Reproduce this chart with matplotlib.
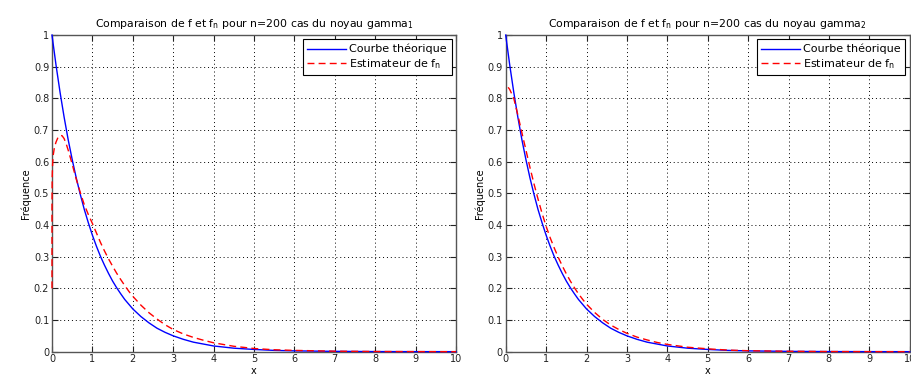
import numpy as np
import matplotlib
matplotlib.use("Agg")
import matplotlib.pyplot as plt

# theoretical curve (same on both panels)
x_th = [0, 0.1, 0.2, 0.3, 0.4, 0.5, 0.6, 0.7, 0.8, 0.9, 1.0, 1.1, 1.2, 1.3,
        1.4, 1.5, 1.6, 1.7, 1.8, 1.9, 2.0, 2.2, 2.4, 2.6, 2.8, 3.0, 3.25, 3.5,
        3.75, 4.0, 4.5, 5.0, 5.5, 6.0, 7.0, 8.0, 9.0, 10.0]
y_th = [1.0, 0.905, 0.819, 0.741, 0.670, 0.607, 0.549, 0.497, 0.449, 0.407,
        0.368, 0.333, 0.301, 0.273, 0.247, 0.223, 0.202, 0.183, 0.165, 0.150,
        0.135, 0.111, 0.091, 0.074, 0.061, 0.050, 0.039, 0.030, 0.024, 0.018,
        0.011, 0.007, 0.004, 0.0025, 0.001, 0.0003, 0.0001, 0.0]

# estimator, gamma_1 kernel
x_g1 = [0.0, 0.0, 0.005, 0.015, 0.03, 0.06, 0.1, 0.15, 0.2, 0.25, 0.3, 0.35,
        0.4, 0.45, 0.5, 0.6, 0.7, 0.8, 0.9, 1.0, 1.1, 1.2, 1.3, 1.4, 1.5, 1.6,
        1.7, 1.8, 1.9, 2.0, 2.2, 2.4, 2.6, 2.8, 3.0, 3.25, 3.5, 3.75, 4.0,
        4.5, 5.0, 5.5, 6.0, 7.0, 8.0, 9.0, 10.0]
y_g1 = [0.2, 0.45, 0.55, 0.59, 0.62, 0.645, 0.662, 0.677, 0.683, 0.682,
        0.673, 0.657, 0.637, 0.615, 0.592, 0.545, 0.503, 0.464, 0.433, 0.405,
        0.375, 0.345, 0.318, 0.293, 0.270, 0.248, 0.228, 0.209, 0.191, 0.175,
        0.147, 0.123, 0.103, 0.085, 0.070, 0.056, 0.045, 0.036, 0.028, 0.017,
        0.010, 0.006, 0.004, 0.0015, 0.0005, 0.0002, 0.0]

# estimator, gamma_2 kernel
x_g2 = [0.06, 0.1, 0.2, 0.3, 0.4, 0.5, 0.6, 0.7, 0.8, 0.9, 1.0, 1.1, 1.2, 1.3,
        1.4, 1.5, 1.6, 1.7, 1.8, 1.9, 2.0, 2.2, 2.4, 2.6, 2.8, 3.0, 3.25, 3.5,
        3.75, 4.0, 4.5, 5.0, 5.5, 6.0, 7.0, 8.0, 9.0, 10.0]
y_g2 = [0.835, 0.828, 0.80, 0.748, 0.692, 0.637, 0.582, 0.530, 0.482, 0.437,
        0.396, 0.360, 0.328, 0.298, 0.271, 0.246, 0.223, 0.202, 0.183, 0.166,
        0.150, 0.124, 0.102, 0.084, 0.070, 0.058, 0.046, 0.037, 0.029, 0.023,
        0.014, 0.009, 0.005, 0.003, 0.0012, 0.0004, 0.0001, 0.0]

xticks = list(range(0, 11))
yticks = [0, 0.1, 0.2, 0.3, 0.4, 0.5, 0.6, 0.7, 0.8, 0.9, 1]
ylabels = ["0", "0.1", "0.2", "0.3", "0.4", "0.5", "0.6", "0.7", "0.8", "0.9", "1"]

titles = [r"Comparaison de f et f$_{\mathregular{n}}$ pour n=200 cas du noyau gamma$_{\mathregular{1}}$",
          r"Comparaison de f et f$_{\mathregular{n}}$ pour n=200 cas du noyau gamma$_{\mathregular{2}}$"]

plt.rcParams['font.family'] = ['DejaVu Sans']
fig = plt.figure(figsize=(9.12, 3.81), dpi=100)
ax1 = fig.add_axes([0.057, 0.077, 0.443, 0.831])
ax2 = fig.add_axes([0.5545, 0.077, 0.443, 0.831])

for ax, xe, ye, title in [(ax1, x_g1, y_g1, titles[0]), (ax2, x_g2, y_g2, titles[1])]:
    ax.plot(x_th, y_th, color='#0000ff', linewidth=1.0, label="Courbe théorique",
            zorder=3, clip_on=False)
    ax.plot(xe, ye, color='#ff0000', linewidth=1.0, linestyle=(0, (5, 3)),
            label=r"Estimateur de f$_{\mathregular{n}}$", zorder=3, clip_on=False)
    ax.set_xlim(0, 10)
    ax.set_ylim(0, 1)
    ax.set_xticks(xticks)
    ax.set_yticks(yticks)
    ax.set_yticklabels(ylabels)
    ax.tick_params(direction='in', top=True, right=True, length=4, width=0.8,
                   labelsize=7, pad=2, colors='#222222')
    ax.grid(True, color='black', linestyle=(0, (1, 3)), linewidth=0.7)
    for s in ax.spines.values():
        s.set_color('#555555')
        s.set_linewidth(1.0)
    ax.set_title(title, fontsize=7.8, pad=6)
    ax.set_xlabel("x", fontsize=7, labelpad=1)
    ax.set_ylabel("Fréquence", fontsize=7, labelpad=2)
    leg = ax.legend(loc='upper right', fontsize=8, fancybox=False, framealpha=1,
                    edgecolor='black', handlelength=3.5, borderpad=0.4,
                    labelspacing=0.25, handletextpad=0.3, borderaxespad=0.4)
    leg.get_frame().set_linewidth(0.8)
    leg.set_zorder(5)

fig.savefig("out.png", dpi=100)
